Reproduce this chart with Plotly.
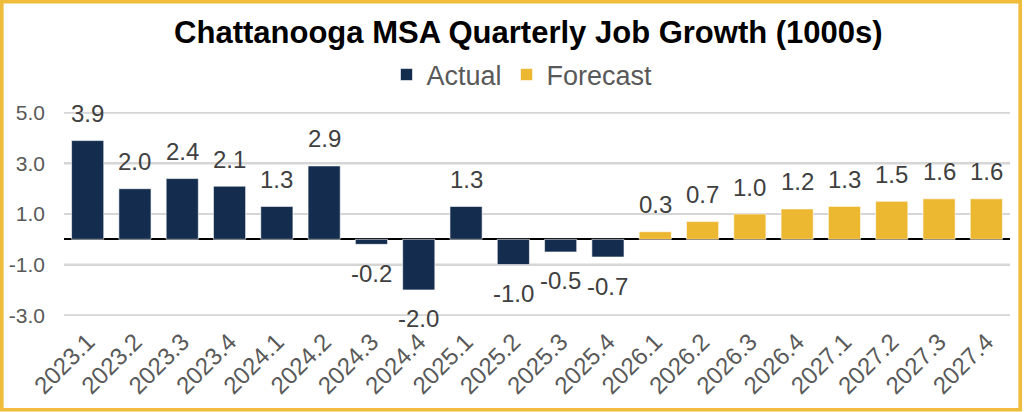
import plotly.graph_objects as go

# quarters and job growth values (thousands)
quartersActual = ['2023.1', '2023.2', '2023.3', '2023.4', '2024.1', '2024.2',
                  '2024.3', '2024.4', '2025.1', '2025.2', '2025.3', '2025.4']
actualVals = [3.9, 2.0, 2.4, 2.1, 1.3, 2.9, -0.2, -2.0, 1.3, -1.0, -0.5, -0.7]

quartersForecast = ['2026.1', '2026.2', '2026.3', '2026.4',
                    '2027.1', '2027.2', '2027.3', '2027.4']
forecastVals = [0.3, 0.7, 1.0, 1.2, 1.3, 1.5, 1.6, 1.6]

yTicks = [-3.0, -1.0, 1.0, 3.0, 5.0]

NAVY = '#142D4F'
GOLD = '#ECB731'
GRID = '#D6D6D6'
FONT = 'Liberation Sans, Arial, sans-serif'

allQuarters = quartersActual + quartersForecast
allVals = actualVals + forecastVals

fig = go.Figure()
fig.add_trace(go.Bar(x=quartersActual, y=actualVals, name='Actual',
                     marker=dict(color=NAVY, line=dict(color='white', width=0.6))))
fig.add_trace(go.Bar(x=quartersForecast, y=forecastVals, name='Forecast',
                     marker=dict(color=GOLD, line=dict(color='white', width=0.6))))

# value labels above / below each bar
# (category index used for x, '2023.1' would be read as an index by plotly.js)
for i, v in enumerate(allVals):
    fig.add_annotation(x=i, y=v, text=f'{v:.1f}', showarrow=False,
                       xref='x', yref='y', yanchor='middle',
                       yshift=27 if v >= 0 else -29,
                       font=dict(size=24, color='#404040', family=FONT))

# gridlines at the tick values, drawn under the bars
for t in yTicks:
    fig.add_shape(type='line', xref='paper', yref='y', layer='below',
                  x0=0, x1=1, y0=t, y1=t, line=dict(color=GRID, width=2))

# margins in px so the gold frame can be placed in paper units
W, H = 1024, 412
L, R, T, B = 64, 14, 112, 96
pw, ph = W - L - R, H - T - B

def px_x(x):
    return (x - L) / pw

def px_y(y):
    return (H - B - y) / ph

fig.add_shape(type='rect', xref='paper', yref='paper', layer='below',
              x0=px_x(1.8), x1=px_x(W - 3.8), y0=px_y(H - 2.2), y1=px_y(1.8),
              line=dict(color='#EFBC3B', width=3.6))

fig.update_layout(
    width=W, height=H,
    margin=dict(l=L, r=R, t=T, b=B),
    paper_bgcolor='white', plot_bgcolor='rgba(0,0,0,0)',
    barmode='overlay', bargap=0.32,
    font=dict(family=FONT, color='#595959'),
    title=dict(text='<b>Chattanooga MSA Quarterly Job Growth (1000s)</b>',
               x=0.516, xanchor='center', y=1 - 32 / H, yanchor='middle',
               yref='container', font=dict(size=31, color='black', family=FONT)),
    legend=dict(orientation='h', x=px_x(522), xanchor='center', y=px_y(75), yanchor='middle',
                font=dict(size=27, color='#595959', family=FONT),
                bgcolor='rgba(0,0,0,0)', itemclick=False),
    showlegend=True,
)

fig.update_xaxes(type='category', automargin=False,
                 categoryorder='array', categoryarray=allQuarters,
                 range=[-0.5, len(allQuarters) - 0.5],
                 showgrid=False, showline=False, ticks='', tickangle=-45,
                 tickfont=dict(size=24, color='#595959'), ticklabelstandoff=6)

fig.update_yaxes(range=[-3.03, 5.03], automargin=False,
                 tickvals=yTicks, ticktext=[f'{t:.1f}' for t in yTicks],
                 showgrid=True, gridcolor=GRID, gridwidth=2,
                 zeroline=True, zerolinecolor='black', zerolinewidth=2,
                 showline=False, ticks='', ticklabelstandoff=18,
                 tickfont=dict(size=21, color='#595959'))

# drop the default page margin so the figure sits at the window corner
fig.write_html("out.html", config={'displayModeBar': False},
               post_script="document.body.style.margin='0';")
